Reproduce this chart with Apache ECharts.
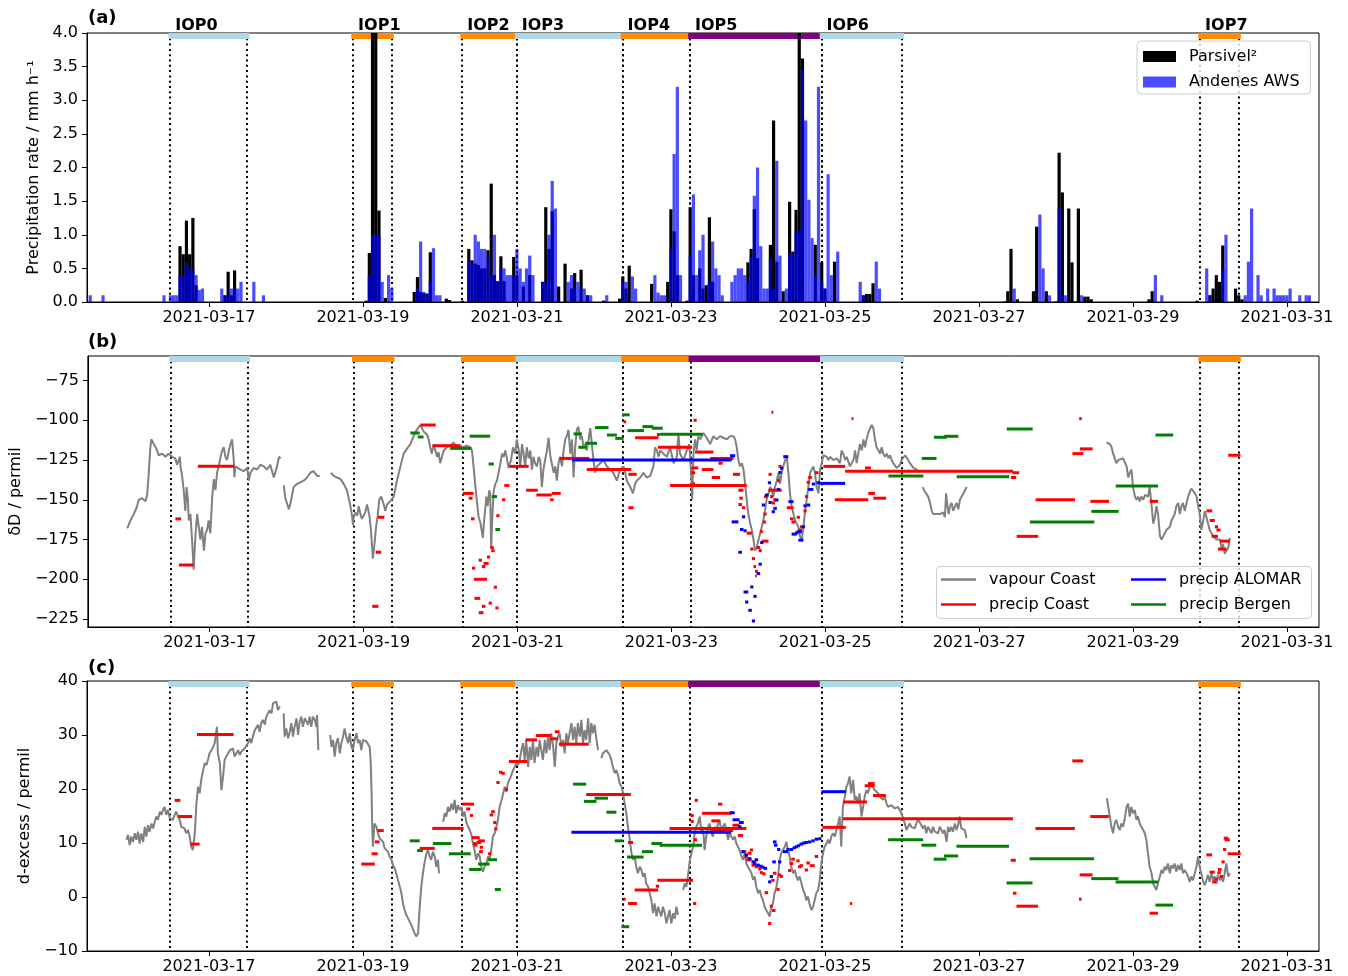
<!DOCTYPE html>
<html>
<head>
<meta charset="utf-8">
<title>Precipitation and isotopes, March 2021</title>
<script src="https://cdn.jsdelivr.net/npm/echarts@6/dist/echarts.min.js"></script>
<style>
  html, body { margin: 0; padding: 0; background: #ffffff; }
  #chart { width: 1348px; height: 976px; }
</style>
</head>
<body>
<div id="chart"></div>
<script>
// Time is expressed in hours since 2021-03-15 00:00 UTC.
const T0 = Date.UTC(2021, 2, 15);
const xMin = 10, xMax = 394;
const dateTicks = [48, 96, 144, 192, 240, 288, 336, 384];

// Intensive observation periods
const iopNames  = ['IOP0', 'IOP1', 'IOP2', 'IOP3', 'IOP4', 'IOP5', 'IOP6', 'IOP7'];
const iopStart  = [36, 93, 127, 144, 177, 198, 239, 357];
const iopEnd    = [60, 105, 144, 177, 198, 239, 264, 369];
const iopColors = ['#add8e6', '#ff8c00', '#ff8c00', '#add8e6', '#ff8c00', '#800080', '#add8e6', '#ff8c00'];

// Tick labels
const precipTicks = [0, 0.5, 1, 1.5, 2, 2.5, 3, 3.5, 4];
const ddTicks = [-225, -200, -175, -150, -125, -100, -75];
const dexTicks = [-10, 0, 10, 20, 30, 40];

// (a) hourly precipitation rate [hour, mm/h]
const parsivel = [
  [39,0.83],[40,0.71],[41,1.21],[42,0.71],[43,1.25],[44,0.25],[53,0.1],[54,0.45],[55,0.1],[56,0.47],
  [97,0.02],[98,0.73],[99,5.0],[100,5.0],[101,1.36],[103,0.06],
  [112,0.15],[113,0.37],[114,0.15],[115,0.13],[116,0.12],[117,0.74],[122,0.05],[123,0.03],[127,0.02],
  [129,0.79],[130,0.62],[131,0.57],[132,0.55],[133,0.5],[134,0.5],[135,0.77],[136,1.76],[137,0.4],[138,0.31],[139,0.68],[140,0.31],[143,0.67],[144,0.4],[146,0.23],[148,0.4],
  [152,0.3],[153,1.41],[154,0.79],[155,1.35],[157,0.23],[159,0.57],[161,0.2],[162,0.43],[164,0.48],[166,0.1],[171,0.02],
  [176,0.05],[177,0.38],[178,0.2],[179,0.54],[186,0.27],[191,0.3],[192,1.38],[193,1.05],[194,0.4],[197,0.02],[198,1.41],[199,0.4],[201,0.5],[202,0.2],[203,0.25],[204,1.26],[205,0.3],
  [216,0.59],[217,0.79],[218,1.38],[219,0.65],[223,0.85],[224,2.7],[225,0.6],[227,0.16],[229,1.49],[230,0.75],[231,1.37],[232,5.0],[233,3.62],[237,0.85],[239,0.59],[240,0.2],[243,0.6],
  [252,0.1],[253,0.12],[254,0.12],[255,0.28],
  [296,0.01],[297,0.16],[298,0.79],[300,0.04],[305,0.16],[306,1.12],[309,0.16],[312,0.01],[313,2.22],[314,1.63],[316,1.39],[317,0.59],[318,0.01],[319,1.39],[321,0.08],[322,0.08],[323,0.04],
  [341,0.04],[342,0.16],[356,0.02],[360,0.1],[361,0.2],[362,0.4],[363,0.3],[364,0.84],[368,0.2],[369,0.1],[370,0.04]
];
const andenes = [
  [11,0.1],[15,0.1],[34,0.1],[36,0.1],[37,0.1],[38,0.1],[39,0.4],[40,0.4],[41,0.59],[42,0.49],[43,0.49],[44,0.4],[45,0.18],[46,0.2],
  [52,0.2],[53,0.1],[54,0.1],[55,0.2],[56,0.2],[57,0.2],[58,0.3],[62,0.3],[65,0.1],
  [98,0.4],[99,1.0],[100,1.0],[101,1.0],[102,0.3],[104,0.4],[105,0.2],
  [113,0.2],[114,0.9],[115,0.15],[116,0.13],[117,0.3],[118,0.8],[119,0.1],[120,0.1],
  [129,0.62],[130,0.57],[131,1.0],[132,0.9],[133,0.79],[134,0.79],[135,0.67],[136,0.4],[137,1.0],[138,0.31],[139,0.5],[140,0.5],[141,0.4],[142,0.4],[143,0.4],[144,0.79],[145,0.5],[146,0.3],[147,0.5],[148,0.69],[149,0.4],
  [152,0.3],[153,0.3],[154,1.0],[155,1.8],[156,1.39],[160,0.3],[161,0.4],[162,0.2],[163,0.3],[164,0.2],[165,0.2],[166,0.1],[167,0.1],[172,0.1],
  [177,0.3],[178,0.3],[180,0.38],[181,0.2],[187,0.4],[188,0.14],[189,0.1],[190,0.1],[192,0.79],[193,2.2],[194,3.2],[195,0.4],
  [198,0.68],[199,1.6],[200,0.4],[201,0.77],[202,1.0],[204,0.3],[205,0.9],[206,0.5],[207,0.4],[208,0.1],
  [211,0.3],[212,0.4],[213,0.5],[214,0.5],[215,0.4],[216,0.3],[217,0.67],[218,1.58],[219,2.0],[220,0.83],[221,0.2],[222,0.2],[223,0.65],[224,0.2],[225,2.1],[226,0.69],[228,0.2],
  [229,0.73],[230,0.7],[231,1.06],[232,1.06],[233,3.45],[234,2.7],[235,1.52],[236,0.95],[237,0.4],[238,3.2],[239,0.3],[240,0.2],[241,1.9],[242,0.4],[244,0.75],
  [251,0.3],[252,0.1],[256,0.6],[257,0.2],[299,0.2],[307,1.3],[308,0.5],[310,0.1],[313,1.39],[314,0.1],[315,0.1],[320,0.1],[343,0.4],[345,0.1],
  [359,0.5],[360,0.1],[364,0.5],[365,1.0],[371,0.1],[372,0.6],[373,1.39],[375,0.4],[376,0.1],[378,0.2],[380,0.2],[381,0.1],[382,0.1],[383,0.1],[384,0.1],[385,0.2],[388,0.1],[390,0.1],[391,0.1]
];

// (b) vapour dD at the coast [hour, permil]; null marks a data gap
const vapourDD = [
  [22.3,-168],[23.3,-163],[24.3,-159],[25.2,-155],[25.9,-150],[26.9,-149],[28.0,-151],[28.5,-147],[29.0,-133],[29.5,-117],[29.8,-112],[30.6,-115],[31.4,-118],[32.1,-122],[33.2,-121],[34.2,-123],[35.2,-121],[36.3,-123],[37.3,-124],[37.8,-128],[38.7,-123],[38.9,-129],[39.4,-135],[39.9,-144],[40.4,-157],[40.8,-142],[41.2,-150],[41.5,-163],[42.0,-159],[42.5,-175],[43.0,-194],[43.6,-171],[44.1,-159],[44.6,-167],[45.1,-175],[45.6,-167],[46.2,-182],[46.7,-171],[47.2,-169],[47.7,-163],[48.2,-171],[48.8,-148],[49.3,-137],[49.8,-144],[50.3,-133],[50.8,-129],[51.4,-123],[51.9,-119],[52.4,-117],[52.9,-123],[53.4,-125],[54.0,-119],[54.5,-115],[55.0,-112],[55.5,-125],[55.7,-136],[56.0,-129],[56.5,-130],[57.6,-131],[58.6,-132],[59.7,-130],[60.2,-138],[60.7,-133],[61.7,-130],[62.8,-131],[63.8,-128],[64.9,-129],[65.9,-131],[66.9,-128],[68.0,-136],[69.0,-129],[69.6,-123],[70.1,-124],[70.6,null],
  [71.1,-141],[71.6,-149],[72.7,-156],[73.2,-152],[74.2,-142],[75.3,-140],[76.3,-139],[77.3,-138],[78.4,-136],[79.4,-133],[80.4,-132],[81.5,-135],[82.3,-135],[83.0,null],
  [85.8,-133],[86.7,-135],[87.7,-136],[88.8,-137],[89.8,-140],[90.8,-144],[91.9,-154],[92.4,-160],[92.7,-166],[92.9,-161],[93.4,-158],[94.0,-160],[94.5,-154],[95.0,-159],[95.5,-162],[96.0,-160],[96.5,-158],[97.1,-153],[97.9,-161],[98.3,-169],[98.6,-178],[98.9,-187],[99.3,-180],[99.9,-167],[100.4,-160],[100.9,-150],[101.5,-148],[102.3,-153],[102.8,-157],[103.3,-153],[104.3,-151],[104.9,-150],[105.4,-148],[106.4,-138],[107.5,-129],[108.5,-121],[109.5,-118],[110.6,-115],[111.6,-110],[112.6,-106],[113.7,-103],[114.2,-104],[114.7,-107],[115.8,-109],[116.3,-112],[116.8,-117],[117.3,-121],[117.8,-115],[118.4,-119],[118.9,-123],[119.4,-120],[119.9,-127],
  [121.0,-119],[122.0,-117],[123.0,-116],[124.1,-114],[125.1,-117],[126.2,-116],[127.0,-117],[128.2,-116],[129.3,-117],[129.8,-119],[130.3,-129],[130.8,-140],[131.4,-152],[131.9,-161],[132.4,-164],[132.9,-170],[133.2,-174],[133.6,-163],[134.3,-148],[134.7,-154],[135.2,-144],[135.5,-146],[135.8,-180],[136.2,-159],[136.6,-144],[137.1,-140],[137.6,-138],[138.1,-133],[138.6,-128],[139.2,-121],[139.7,-123],[140.2,-119],[140.7,-124],[141.2,-130],[142.0,-125],[142.6,-117],[143.3,-121],[143.8,-112],[144.4,-119],[144.9,-129],[145.4,-115],[145.9,-121],[146.4,-129],[146.9,-117],[147.5,-124],[148.0,-119],[148.5,-131],[149.0,-123],[149.5,-127],[150.1,-129],[150.6,-123],[151.1,-125],[151.6,-142],[152.1,-131],[152.7,-124],[153.2,-119],[153.7,-111],[154.2,-122],[154.7,-123],[155.3,-133],[155.8,-129],[156.3,-138],[156.8,-127],[157.3,-123],[157.9,-129],[158.4,-119],[158.9,-112],[159.4,-110],[159.9,-106],[160.5,-121],[161.0,-112],[161.5,-136],[162.0,-117],[162.5,-106],[163.0,-104],[163.6,-112],[164.1,-110],[164.6,-117],[165.1,-115],[165.6,-119],[166.2,-112],[166.7,-105],[167.2,-106],[167.7,-125],[168.2,-133],[168.8,-129],[169.8,-127],[170.8,-125],[171.9,-129],[172.9,-131],[173.9,-133],[175.0,-138],[176.0,-131],[177.1,-129],[177.6,-133],[178.1,-138],[179.2,-142],[180.0,-146],[180.7,-140],[181.2,-138],[182.3,-136],[183.3,-133],[184.3,-136],[185.4,-135],[186.4,-129],[186.9,-117],[187.5,-119],[188.0,-123],[188.5,-119],[189.5,-121],[190.6,-123],[191.6,-117],[192.7,-127],[193.7,-123],[194.2,-108],[194.7,-121],[195.8,-125],[196.8,-119],[197.6,-115],[198.1,-131],[198.5,-150],[198.9,-121],[199.4,-112],[199.9,-119],[200.4,-110],[201.0,-112],[202.0,-108],[203.0,-111],[204.1,-115],[205.1,-110],[206.2,-112],[207.2,-110],[208.2,-111],[209.3,-112],[210.3,-110],[211.4,-110],[211.9,-112],[212.4,-117],[212.9,-125],[213.4,-129],[214.0,-127],[214.5,-131],[215.0,-140],[215.5,-150],[216.0,-159],[216.6,-165],[217.1,-169],[217.6,-175],[218.1,-182],[218.6,-180],[219.2,-175],[219.7,-171],[220.2,-167],[220.7,-163],[221.2,-157],[221.7,-150],[222.3,-146],[222.8,-142],[223.3,-144],[223.8,-148],[224.3,-142],[224.9,-138],[225.4,-133],[225.9,-140],[226.4,-133],[226.9,-129],[227.5,-125],[228.0,-123],[228.5,-133],[229.0,-146],[229.5,-154],[230.1,-159],[230.6,-163],[231.1,-165],[231.6,-167],[232.1,-173],[232.7,-175],[233.2,-167],[233.7,-157],[234.2,-150],[234.7,-142],[235.3,-133],[235.8,-131],[236.3,-129],[236.8,-133],[237.3,-142],[237.9,-146],[238.4,-131],[238.9,-127],[239.4,-122],[239.9,-121],[240.5,-123],[241.0,-125],[241.5,-123],[242.5,-125],[243.6,-124],[244.6,-127],[245.1,-119],[245.6,-121],[246.2,-125],[246.7,-123],[247.7,-129],
  [248.8,-125],[249.3,-119],[249.8,-127],[250.3,-121],[250.8,-115],[251.4,-119],[251.9,-112],[252.4,-117],[252.9,-112],[253.4,-108],[254.0,-105],[254.5,-103],[255.0,-105],[255.5,-112],[256.0,-117],[256.6,-119],[257.1,-121],[257.6,-117],[258.1,-121],[258.6,-123],[259.2,-121],[259.7,-124],[260.2,-122],[260.7,-125],[261.2,-127],[262.3,-130],[262.8,-129],[263.3,-128],[263.8,-125],[264.4,-124],[264.9,-122],[265.4,-123],[265.9,-125],[266.4,-127],[267.5,-130],[268.5,-131],[269.0,-133],[269.7,null],
  [270.4,-142],[270.8,-144],[271.4,-143],[272.1,-148],[272.7,-152],[273.2,-157],[273.7,-159],[274.2,-158],[274.7,-159],[275.3,-158],[275.8,-159],[276.3,-160],[276.8,-158],[277.3,-161],[277.7,-146],[278.1,-154],[278.5,-159],[278.9,-154],[279.4,-152],[279.9,-157],[280.5,-154],[281.0,-152],[281.5,-156],[282.0,-150],[282.5,-148],[283.1,-146],[283.6,-144],[284.1,-142],[300.0,null],
  [327.7,-114],[328.8,-115],[329.3,-117],[329.8,-121],[330.3,-124],[330.8,-127],[331.4,-125],[331.9,-124],[332.9,-124],[333.4,-125],[334.0,-129],[334.5,-136],[335.0,-133],[335.5,-131],[336.0,-142],[336.6,-148],[337.1,-150],[337.6,-148],[338.1,-151],[338.6,-148],[339.2,-150],[339.7,-147],[340.2,-146],[340.7,-148],[341.2,-142],[341.8,-154],[342.3,-165],[342.8,-161],[343.3,-154],[343.8,-159],[344.4,-173],[344.9,-175],[345.4,-173],[345.9,-171],[346.4,-169],[346.9,-168],[347.5,-167],[348.0,-163],[348.5,-161],[349.0,-159],[349.5,-154],[350.1,-152],[350.6,-159],[351.1,-154],[351.6,-152],[352.1,-157],[352.7,-152],[353.2,-148],[353.7,-145],[354.2,-143],[354.7,-144],[355.3,-146],[355.8,-148],[356.3,-154],[356.8,-159],[357.3,-169],[357.9,-163],[358.4,-157],[358.9,-161],[359.4,-165],[359.9,-169],[360.5,-171],[361.0,-173],[361.5,-174],[362.0,-175],[363.1,-175],[363.6,-180],[364.1,-178],[364.6,-184],[365.1,-185],[365.7,-180],[366.2,-174]
];

// (b) precipitation dD samples [start hour, end hour, permil]
const precipCoastDD = [
  [37.3,39.1,-162],[38.4,43.0,-191],[44.3,55.7,-129],
  [98.7,100.6,-217],[99.8,101.5,-183],[100.5,102.5,-161],
  [113.7,118.5,-103],[117.6,126.2,-116],
  [127.0,130.3,-146],[128.8,130.0,-149],[129.5,130.6,-162],[129.8,130.8,-193],[130.4,134.5,-200],[130.6,132.4,-212],[131.9,132.9,-188],[132.9,134.0,-192],[133.4,135.0,-190],[131.9,133.4,-221],[132.9,134.0,-217],[135.0,136.0,-215],[134.5,135.5,-186],[135.5,136.6,-180],[135.8,136.9,-182],[136.6,137.6,-205],[137.1,138.1,-218],[137.4,138.4,-160],[139.2,140.2,-150],[139.9,141.5,-141],
  [141.5,147.5,-129],[146.7,150.3,-144],[149.9,154.7,-147],[154.2,155.3,-150],[154.7,157.5,-146],[157.1,166.4,-124],[165.6,179.5,-131],[178.6,181.2,-134],[178.6,180.2,-155],[177.1,177.9,-101],[180.7,188.0,-111],[187.5,188.5,-109],[187.8,198.4,-117],[191.6,215.5,-141],
  [198.4,200.4,-130],[198.9,199.9,-100],[199.4,205.1,-120],[198.2,199.4,-133],[198.4,199.4,-140],[201.5,205.1,-131],[204.6,207.2,-136],[204.1,211.4,-124],[206.7,208.0,-127],[211.2,213.4,-134],[212.9,214.5,-144],[213.2,214.3,-149],[212.9,214.0,-153],[214.0,215.0,-155],[215.5,217.1,-171],[216.6,217.6,-181],[217.1,218.1,-187],[217.6,218.4,-192],[218.1,219.0,-195],[218.1,218.6,-198],[218.6,219.7,-180],[219.2,220.2,-182],[219.7,220.5,-170],[220.5,221.5,-164],[220.7,221.7,-159],[220.9,222.0,-148],[220.2,222.3,-176],[222.3,223.3,-134],[222.3,226.4,-144],[222.8,223.8,-148],[223.3,224.3,-152],[223.8,224.9,-150],[224.9,225.9,-138],[225.4,226.4,-129],[223.2,223.8,-95],
  [228.0,230.1,-155],[229.0,230.1,-162],[229.5,230.6,-164],[231.1,232.1,-161],[231.6,232.7,-169],[232.1,233.2,-167],[233.2,234.2,-157],[233.7,234.7,-148],[234.2,235.3,-139],[234.7,235.8,-136],[236.8,237.9,-133],
  [239.4,246.2,-129],[248.2,248.8,-99],[243.0,253.4,-150],[252.4,254.2,-130],[253.4,255.5,-146],[255.0,259.0,-149],[246.2,298.6,-132],
  [298.4,300.5,-133],[297.9,299.5,-136],[299.7,306.4,-173],[305.6,317.9,-150],[317.1,320.5,-121],[319.4,323.4,-118],[319.2,320.0,-99],[322.7,328.5,-151],[341.2,343.8,-151],
  [358.9,360.7,-157],[359.9,361.5,-163],[361.5,362.5,-167],[362.0,363.3,-169],[360.5,362.5,-173],[363.1,366.2,-176],[362.5,365.1,-181],[365.7,369.5,-122]
];
const precipAlomarDD = [
  [161.0,210.8,-125],[210.3,211.9,-122.3],[210.8,212.9,-163.9],[212.9,214.0,-183],[213.4,214.5,-168.7],[214.0,215.0,-160.7],[214.5,215.5,-169.5],[214.5,216.0,-208],[215.0,216.0,-214.3],[216.0,217.1,-219.5],[216.6,217.6,-204.8],[217.1,218.1,-226.2],[217.6,218.6,-210.7],[218.6,219.7,-196.4],[219.2,220.2,-190.5],[219.7,220.7,-176.9],[220.2,221.2,-153.3],[221.2,222.3,-147],[222.1,223.1,-139.3],[222.3,223.3,-151.7],[223.3,224.3,-157.5],[223.8,224.9,-155.4],[224.3,225.4,-150.2],[224.9,225.9,-143.5],[225.4,226.4,-132.8],[225.9,226.9,-130.2],[226.9,228.5,-122.9],[228.5,230.1,-151.2],[229.5,231.1,-171.6],[230.6,231.6,-170.8],[231.1,232.7,-170.1],[231.6,233.2,-175.4],[232.7,233.7,-167],[233.2,234.2,-153.8],[234.2,235.3,-153.3],[234.7,236.3,-143.5],[235.8,236.8,-140.1],[237.3,238.4,-139.3],[238.4,246.2,-139.7]
];
const precipBergenDD = [
  [110.6,113.5,-108],[112.9,114.7,-110.5],[123.0,129.6,-117.7],[129.1,135.5,-110],[135.0,136.6,-127.5],[136.0,137.6,-148],[137.1,138.6,-168.7],
  [161.5,164.1,-108.6],[163.0,165.6,-117],[165.1,168.8,-114.5],[168.2,172.4,-104.6],[171.9,175.0,-109.3],[174.5,177.1,-111.4],[176.6,179.0,-96.6],[178.3,183.5,-106.5],[183.0,186.4,-104],[185.9,189.3,-105],[188.5,201.7,-108.8],
  [259.7,270.6,-135],[270.1,274.7,-124],[273.9,277.9,-110.7],[277.1,281.5,-110.1],[281.0,297.4,-135.5],[296.6,304.7,-105.5],[303.8,323.9,-164],[323.0,331.5,-157.3],[330.6,343.8,-141.4],[343.0,348.5,-109.3]
];

// (c) vapour d-excess at the coast [hour, permil]; null marks a data gap
const vapourDex = [
  [22.3,10.6],[22.8,11.5],[23.3,9.6],[23.8,11.2],[24.3,10.2],[24.9,11.8],[25.4,10.6],[25.9,12.1],[26.4,9.9],[26.9,11.8],[27.5,10.2],[28.0,13.0],[28.5,11.2],[29.0,13.3],[29.5,12.1],[30.1,13.6],[30.6,12.7],[31.1,13.9],[31.6,14.9],[32.1,14.3],[32.7,15.8],[33.2,15.2],[33.7,16.1],[34.2,16.7],[34.7,15.2],[35.2,16.1],[35.8,14.6],[36.3,14.9],[36.8,14.3],[37.3,15.2],[37.8,15.8],[38.4,14.9],[38.9,14.3],[39.4,13.0],[39.9,13.3],[40.4,12.7],[40.9,11.8],[41.5,12.4],[42.0,11.2],[42.5,9.3],[43.0,8.7],[43.6,11.8],[44.1,17.3],[44.6,20.4],[44.9,20.7],[45.1,19.2],[45.6,21.7],[46.2,23.5],[46.7,24.8],[47.2,24.4],[47.7,25.4],[48.2,26.6],[48.8,27.2],[49.3,27.8],[49.8,28.5],[50.3,28.8],[50.5,31.5],[50.8,26.6],[51.4,24.8],[51.9,19.8],[52.4,22.3],[52.9,25.4],[53.4,26.0],[54.0,26.6],[54.5,27.2],[55.0,26.9],[55.5,27.5],[56.0,26.0],[56.5,26.3],[57.1,27.2],[57.6,26.3],[58.1,26.9],[58.6,26.6],[59.1,27.5],[59.7,27.8],[60.2,28.5],[60.7,29.4],[61.2,28.5],[61.7,29.7],[62.3,30.9],[62.8,31.2],[63.3,31.9],[63.8,30.6],[64.3,32.2],[64.9,32.8],[65.4,31.9],[65.9,33.4],[66.4,33.7],[66.9,34.6],[67.5,34.0],[68.0,35.9],[68.5,35.6],[69.0,36.2],[69.5,34.6],[70.1,35.3],[70.7,null],
  [71.3,34.0],[71.6,29.7],[72.1,31.2],[72.7,29.4],[73.2,30.6],[73.7,32.2],[74.2,29.7],[74.7,31.5],[75.3,33.1],[75.8,30.0],[76.3,32.5],[76.8,33.4],[77.3,31.5],[77.9,33.1],[78.4,33.4],[78.9,31.9],[79.4,33.4],[79.9,31.5],[80.4,33.4],[81.0,32.8],[81.5,31.5],[81.7,33.7],[82.1,27.2],[83.0,null],
  [85.8,30.0],[86.2,27.8],[86.7,29.1],[87.2,26.0],[87.7,28.5],[88.2,29.4],[88.8,26.6],[89.3,28.5],[89.8,29.7],[90.3,31.2],[90.8,29.7],[91.4,28.5],[91.9,30.3],[92.4,27.8],[92.9,27.2],[93.4,29.1],[94.0,30.3],[94.5,28.5],[95.0,29.1],[95.5,27.2],[96.0,29.1],[96.5,29.1],[97.1,28.8],[97.6,28.5],[98.1,27.8],[98.4,25.4],[98.7,19.2],[98.9,13.0],[99.1,9.3],[99.6,13.6],[100.2,13.0],[100.7,11.8],[101.2,10.9],[101.7,10.6],[102.3,10.2],[102.8,9.0],[103.3,8.7],[103.8,8.4],[104.3,7.5],[104.9,6.9],[105.4,5.9],[105.9,5.3],[106.4,4.4],[106.9,3.2],[107.5,1.9],[108.0,0.7],[108.5,-1.2],[109.0,-2.4],[109.5,-3.3],[110.1,-4.0],[110.6,-4.6],[111.1,-5.2],[111.6,-5.5],[112.1,-6.7],[112.6,-7.3],[113.2,-6.7],[113.7,-1.8],[114.2,1.9],[114.7,4.4],[115.2,6.3],[115.8,8.1],[116.3,8.7],[116.8,7.5],[117.3,6.9],[117.8,8.4],[118.4,7.5],[118.9,5.6],[119.4,6.9],[119.7,4.4],[120.3,null],
  [121.0,13.9],[121.5,15.5],[122.0,14.9],[122.5,16.7],[123.0,15.8],[123.6,17.3],[124.1,16.1],[124.6,18.0],[125.1,15.5],[125.6,17.0],[126.2,16.1],[126.7,16.7],[127.2,14.9],[127.7,15.8],[128.2,13.9],[128.8,13.0],[129.3,12.4],[129.8,11.5],[130.3,9.9],[130.8,8.7],[131.3,6.9],[131.9,8.1],[132.4,7.5],[132.9,5.6],[133.4,4.7],[133.9,5.6],[134.5,6.2],[135.0,7.5],[135.5,6.9],[136.0,8.7],[136.5,11.2],[137.1,11.8],[137.6,13.0],[138.1,14.3],[138.6,16.7],[139.2,17.9],[139.7,19.1],[140.2,20.4],[140.7,19.5],[141.2,21.1],[141.7,21.4],[142.3,22.6],[142.8,23.5],[143.3,24.1],[143.8,24.8],[144.3,24.4],[144.9,25.4],[145.4,27.2],[145.9,28.5],[146.4,25.4],[146.9,29.1],[147.5,24.1],[148.0,27.8],[148.5,25.4],[149.0,29.1],[149.5,24.8],[150.1,27.8],[150.6,26.0],[151.1,29.1],[151.6,27.2],[152.1,25.4],[152.7,29.1],[153.2,26.6],[153.7,29.7],[154.2,27.2],[154.7,30.3],[155.3,27.8],[155.8,24.1],[156.3,28.5],[156.8,29.7],[157.3,30.3],[157.9,27.8],[158.4,29.1],[158.9,26.6],[159.4,30.3],[159.9,28.5],[160.5,30.6],[161.0,32.2],[161.5,29.1],[162.0,31.5],[162.5,28.5],[163.0,32.2],[163.6,29.7],[164.1,32.8],[164.6,28.5],[165.1,30.9],[165.6,29.1],[166.2,33.1],[166.7,28.5],[167.2,32.2],[167.7,30.3],[168.2,31.9],[168.8,29.1],[169.3,27.2],[169.8,null],
  [170.3,25.7],[170.8,26.6],[171.4,26.9],[171.9,27.2],[172.4,26.9],[172.9,26.3],[173.4,25.4],[173.9,24.1],[174.5,22.9],[175.0,23.5],[175.5,22.6],[176.0,21.1],[176.6,20.4],[177.1,19.2],[177.6,17.3],[178.1,15.5],[178.6,13.0],[179.2,10.6],[179.7,8.1],[180.2,6.9],[180.7,7.5],[181.2,5.6],[181.7,4.4],[182.3,5.6],[182.8,5.0],[183.3,3.8],[183.8,4.4],[184.3,2.5],[184.9,1.9],[185.4,0.7],[185.9,-0.6],[186.4,-3.0],[186.9,-1.2],[187.5,-3.6],[188.0,-1.8],[188.5,-2.1],[189.0,-3.6],[189.5,-1.8],[190.1,-3.0],[190.6,-4.9],[191.1,-3.6],[191.6,-2.4],[192.1,-4.9],[192.7,-3.0],[193.2,-4.0],[193.7,-1.8],[194.2,-3.3],[195.0,null],
  [195.8,1.3],[196.3,2.5],[196.8,1.9],[197.3,3.8],[197.9,6.9],[198.4,8.1],[198.9,9.3],[199.4,11.8],[199.9,13.0],[200.4,13.6],[201.0,14.9],[201.5,11.8],[202.0,13.0],[202.5,8.7],[203.0,11.2],[203.6,13.0],[204.1,13.6],[204.6,11.8],[205.1,11.2],[205.6,13.0],[206.2,12.4],[206.7,13.6],[207.2,14.3],[207.7,11.8],[208.2,13.0],[208.8,13.6],[209.3,12.4],[209.8,10.6],[210.3,11.8],[210.8,11.2],[211.4,10.6],[211.9,11.2],[212.4,9.9],[212.9,9.3],[213.4,8.7],[214.0,7.5],[214.5,6.9],[215.0,8.1],[215.5,6.2],[216.0,5.6],[216.6,5.0],[217.1,4.4],[217.6,3.2],[218.1,3.8],[218.6,1.9],[219.2,0.7],[219.7,1.3],[220.2,0.1],[220.7,-0.6],[221.2,-1.8],[221.7,-2.4],[222.3,-3.0],[222.8,-3.6],[223.3,-1.8],[223.8,-1.2],[224.3,0.7],[224.9,1.9],[225.4,3.8],[225.9,6.9],[226.4,8.1],[226.9,8.7],[227.5,9.3],[228.0,10.2],[228.5,8.7],[229.0,7.5],[229.5,5.6],[230.1,4.4],[230.6,5.0],[231.1,3.8],[231.6,3.1],[232.1,3.8],[232.7,2.5],[233.2,1.3],[233.7,0.7],[234.2,-0.6],[234.7,0.1],[235.3,-1.5],[235.8,-2.4],[236.3,-1.8],[236.8,-0.6],[237.3,0.7],[237.9,1.3],[238.4,3.2],[238.9,6.3],[239.4,8.1],[239.9,9.3],[240.5,9.9],[241.0,10.6],[241.5,9.9],[242.0,11.2],[242.5,11.8],[243.1,11.2],[243.6,12.4],[244.1,13.6],[244.6,14.9],[245.1,9.3],[245.6,16.7],[246.2,18.6],[246.7,20.4],[247.2,21.1],[247.7,22.3],[248.2,19.2],[248.8,21.7],[249.3,18.0],[249.8,18.6],[250.3,17.3],[250.8,19.2],[251.4,14.9],[251.9,16.7],[252.4,18.6],[252.9,19.8],[253.4,19.2],[254.0,20.4],[254.5,21.1],[255.0,20.4],[255.5,19.8],[256.0,19.5],[256.6,19.2],[257.1,18.6],[257.6,18.9],[258.1,18.0],[258.6,18.6],[259.2,17.3],[259.7,16.7],[260.2,16.4],[260.7,17.0],[261.2,16.7],[261.8,16.4],[262.3,16.1],[262.8,16.7],[263.3,16.4],[263.8,15.5],[264.4,14.6],[264.9,13.6],[265.4,12.4],[265.9,13.0],[266.4,13.6],[266.9,13.0],[267.5,13.3],[268.0,12.7],[268.5,13.6],[269.0,14.3],[269.5,13.9],[270.1,13.6],[270.6,12.7],[271.1,13.3],[271.6,11.8],[272.1,13.0],[272.7,12.4],[273.2,11.8],[273.7,13.0],[274.2,12.1],[274.7,12.4],[275.3,11.8],[275.8,13.0],[276.3,12.7],[276.8,11.8],[277.3,12.4],[277.9,10.2],[278.4,13.0],[278.9,12.1],[279.4,13.0],[279.9,12.1],[280.5,13.6],[281.0,12.4],[281.5,13.3],[282.0,14.9],[282.5,12.7],[283.1,13.0],[283.6,12.4],[284.1,10.9],[300.0,null],
  [327.9,18.3],[328.3,16.7],[328.8,14.9],[329.3,13.0],[329.8,11.8],[330.3,13.6],[330.8,14.3],[331.4,13.0],[331.9,12.4],[332.4,13.6],[332.9,13.0],[333.4,14.3],[334.0,16.7],[334.5,17.3],[335.0,14.9],[335.5,16.7],[336.0,15.5],[336.6,16.1],[337.1,14.3],[337.6,14.9],[338.1,13.6],[338.6,13.0],[339.2,12.4],[339.7,11.8],[340.2,10.6],[340.7,8.1],[341.2,5.6],[341.8,4.4],[342.3,2.5],[342.8,1.9],[343.3,1.3],[343.8,2.5],[344.4,3.8],[344.9,5.0],[345.4,4.4],[345.9,5.6],[346.4,5.0],[346.9,6.2],[347.5,4.4],[348.0,5.9],[348.5,5.3],[349.0,6.2],[349.5,4.7],[350.1,5.9],[350.6,5.0],[351.1,6.2],[351.6,4.4],[352.1,5.0],[352.7,4.4],[353.2,3.8],[353.7,2.8],[354.2,3.8],[354.7,3.1],[355.3,4.4],[355.8,5.6],[356.3,7.5],[356.8,5.6],[357.3,4.4],[357.9,2.8],[358.4,2.2],[358.9,3.1],[359.4,4.1],[359.9,2.8],[360.5,4.4],[361.0,3.1],[361.5,3.8],[362.0,2.5],[362.5,4.1],[363.1,3.1],[363.6,3.8],[364.1,2.8],[364.6,4.4],[365.1,6.2],[365.7,3.8],[366.2,4.4]
];

// (c) precipitation d-excess samples [start hour, end hour, permil]
const precipCoastDex = [
  [37.3,39.1,17.9],[38.4,42.8,14.9],[42.2,45.1,9.8],[44.3,55.7,30.1],
  [95.5,99.7,6.1],[98.7,100.6,8.0],[99.7,101.2,10.2],[100.5,102.5,12.3],
  [113.7,118.4,9.0],[117.6,127.4,12.7],
  [127.0,130.6,17.2],[128.2,129.5,16.3],[129.3,130.3,15.1],[130.0,132.4,11.0],[130.3,131.4,9.9],[131.4,132.9,10.1],[131.9,134.0,10.4],[130.6,131.7,9.6],[132.2,133.4,8.4],[132.4,133.4,9.2],[135.0,136.0,8.0],[135.5,136.6,15.2],[136.0,137.1,15.8],[136.6,137.6,13.8],[136.9,137.9,12.6],[137.6,138.6,21.2],[138.4,139.5,23.1],[139.2,140.2,22.9],[140.2,141.2,19.9],
  [141.5,147.2,25.1],[146.7,150.3,29.1],[149.9,154.7,29.9],[154.2,156.8,29.3],[155.8,157.3,30.6],[157.1,166.4,28.3],[165.6,179.5,19.0],[178.6,180.2,10.1],[177.1,177.9,-0.4],[178.6,181.4,-1.2],[180.7,188.0,1.3],[187.3,188.3,2.0],[187.8,198.9,3.1],[191.6,215.5,12.7],
  [198.9,199.9,-1.2],[199.4,200.4,17.9],[198.1,199.1,15.1],[198.1,199.1,14.0],[199.1,200.1,10.6],[201.7,211.0,15.5],[204.1,211.4,12.3],[204.6,207.2,14.1],[206.7,208.0,17.2],[211.2,213.4,13.3],[212.9,214.5,11.4],[214.0,215.5,8.4],[215.0,216.0,7.5],[215.5,217.1,6.9],[216.0,217.1,8.1],[216.6,217.6,8.7],[217.1,218.1,5.9],[217.6,218.6,6.5],[218.1,219.2,5.6],[219.2,220.2,5.2],[219.7,220.7,4.5],[220.5,221.5,4.3],[221.2,222.3,0.8],[222.3,223.3,-4.9],[222.8,223.8,-1.7],[223.5,224.6,-2.5],[223.3,224.3,3.1],[223.8,224.9,4.4],[224.9,225.9,1.4],[225.4,226.4,4.1],[225.9,226.9,3.8],[228.5,229.5,4.9],[229.0,230.1,6.2],[229.5,230.6,7.0],[231.1,232.1,6.7],[231.6,232.7,5.6],[232.1,233.2,5.8],[233.7,234.7,5.0],[234.2,235.3,6.3],[235.3,236.8,5.8],[236.8,237.9,7.5],
  [239.2,246.5,12.9],[245.6,253.1,17.6],[245.6,298.6,14.5],[247.8,248.5,-1.2],[252.4,255.5,20.6],[253.4,255.5,21.0],[255.0,259.0,18.8],
  [297.9,299.5,6.8],[298.6,299.7,0.7],[299.7,306.4,-1.7],[305.6,317.9,12.7],[317.1,320.5,25.2],[319.4,323.4,4.1],[319.2,320.0,-0.4],[322.7,328.5,14.9],[341.2,343.8,-3.0],
  [358.9,360.7,7.8],[359.9,361.5,4.6],[360.7,362.0,2.8],[361.5,362.5,3.3],[362.3,363.4,4.5],[362.5,363.6,5.1],[363.1,364.1,3.8],[363.6,364.6,6.5],[364.1,365.1,8.8],[364.6,366.2,10.6],[364.3,365.7,10.9],[365.5,369.6,8.0]
];
const precipAlomarDex = [
  [161.0,210.8,12.0],[210.3,211.9,15.6],[211.2,213.4,14.3],[213.2,214.7,13.8],[212.9,214.0,13.0],[214.0,215.0,8.4],[215.0,216.0,7.8],[216.0,217.1,7.1],[217.1,218.1,6.5],[217.6,218.6,6.1],[218.1,219.2,6.9],[218.6,219.7,5.9],[219.5,220.5,5.7],[220.2,221.2,5.5],[220.9,222.0,5.3],[222.3,223.3,2.8],[222.8,223.8,3.8],[223.6,224.7,6.5],[223.8,224.9,10.2],[224.1,225.2,9.6],[225.1,226.1,8.8],[225.4,226.4,6.5],[226.9,228.5,8.4],[228.0,229.0,8.8],[229.0,230.1,8.8],[229.9,230.9,9.1],[230.6,231.6,9.3],[231.3,232.3,9.5],[232.1,233.2,9.8],[232.9,234.0,10.0],[233.7,234.7,10.1],[234.7,235.8,10.2],[235.8,236.8,10.4],[236.8,237.9,10.7],[237.9,238.9,10.8],[238.9,246.5,19.5]
];
const precipBergenDex = [
  [110.6,113.7,10.4],[112.9,114.7,8.6],[117.8,123.6,9.9],[122.8,129.6,8.0],[129.1,132.9,5.1],[131.9,135.5,6.1],[135.0,137.8,6.9],[137.1,139.0,1.4],
  [161.5,165.6,20.9],[164.9,168.8,17.7],[168.2,172.4,18.3],[171.9,175.0,15.7],[174.5,177.1,10.4],[176.6,179.0,-5.5],[178.3,183.5,7.4],[183.0,186.4,8.4],[185.9,189.3,9.9],[188.5,201.7,9.6],
  [259.7,270.6,10.6],[270.1,274.7,9.6],[273.9,277.9,7.0],[277.1,281.5,7.6],[281.0,297.4,9.4],[296.6,304.7,2.6],[303.8,323.9,7.1],[323.0,331.5,3.4],[330.6,343.8,2.8],[343.0,348.5,-1.5]
];

// ---------------------------------------------------------------------------
const FONT = 'DejaVu Sans';
const chart = echarts.init(document.getElementById('chart'), null, { renderer: 'canvas' });

function dateLabel(h) {
  return new Date(T0 + h * 3600e3).toISOString().slice(0, 10);
}
function minusLabel(v) {
  return String(v).replace('-', '\u2212');
}

// hourly bar, clipped to the plotting area
function barItem(params, api) {
  const h = api.value(0), v = api.value(1);
  const a = api.coord([h - 0.5, 0]);
  const b = api.coord([h + 0.5, v]);
  const cs = params.coordSys;
  const rect = echarts.graphic.clipRectByRect(
    { x: a[0], y: b[1], width: b[0] - a[0], height: a[1] - b[1] },
    { x: cs.x, y: cs.y, width: cs.width, height: cs.height });
  return rect && { type: 'rect', shape: rect, style: { fill: api.visual('color') } };
}
// horizontal line covering a sampling interval
function segmentItem(params, api) {
  const v = api.value(2);
  const a = api.coord([api.value(0), v]);
  const b = api.coord([api.value(1), v]);
  return { type: 'line', shape: { x1: a[0], y1: a[1], x2: b[0], y2: b[1] },
           style: { stroke: api.visual('color'), lineWidth: 3 } };
}
// coloured strip along the top of a panel marking an IOP
function bandItem(yRef) {
  return function (params, api) {
    const cs = params.coordSys;
    const x0 = api.coord([api.value(0), yRef])[0] - 2;
    const x1 = api.coord([api.value(1), yRef])[0] + 2;
    return { type: 'rect', shape: { x: x0, y: cs.y, width: x1 - x0, height: 6 },
             style: { fill: iopColors[params.dataIndex] } };
  };
}
// dotted vertical line at an IOP boundary
function boundaryItem(yRef) {
  return function (params, api) {
    const cs = params.coordSys;
    const x = Math.round(api.coord([api.value(0), yRef])[0]);
    return { type: 'line', shape: { x1: x, y1: cs.y, x2: x, y2: cs.y + cs.height },
             style: { stroke: '#000', lineWidth: 2, lineDash: [2, 3.3] } };
  };
}
function iopLabelItem(params, api) {
  const cs = params.coordSys;
  const x = api.coord([api.value(0) + 1.5, 0])[0];
  return { type: 'text', x: x, y: cs.y - 7,
           style: { text: iopNames[params.dataIndex], fontFamily: FONT, fontSize: 16,
                    fontWeight: 'bold', fill: '#000', align: 'left', verticalAlign: 'middle' } };
}

const iopSpans = iopStart.map((s, i) => [s, iopEnd[i]]);
const iopBounds = iopStart.concat(iopEnd).map(t => [t]);

function xAxisFor(i) {
  return {
    type: 'value', gridIndex: i, min: xMin, max: xMax,
    axisLine: { show: true, onZero: false, lineStyle: { color: '#000', width: 1 } },
    axisTick: { show: true, length: 5, customValues: dateTicks, lineStyle: { color: '#000' } },
    axisLabel: { customValues: dateTicks, formatter: dateLabel, fontSize: 16, fontFamily: FONT, color: '#000', margin: 8 },
    splitLine: { show: false }
  };
}
function yAxisBase(i, name) {
  return {
    type: 'value', gridIndex: i, name: name, nameLocation: 'middle', nameGap: 44,
    nameTextStyle: { fontSize: 16, fontFamily: FONT, color: '#000' },
    axisLine: { show: true, onZero: false, lineStyle: { color: '#000', width: 1 } },
    axisTick: { show: true, length: 5, lineStyle: { color: '#000' } },
    axisLabel: { fontSize: 16, fontFamily: FONT, color: '#000', margin: 9 },
    splitLine: { show: false }
  };
}

const yA = yAxisBase(0, 'Precipitation rate / mm h\u207b\u00b9');
Object.assign(yA, { min: 0, max: 4, interval: 0.5 });
yA.axisLabel.formatter = v => v.toFixed(1);

const yB = yAxisBase(1, '\u03b4D / permil');
Object.assign(yB, { min: -230, max: -59.6 });
yB.axisTick.customValues = ddTicks;
yB.axisLabel.customValues = ddTicks;
yB.axisLabel.formatter = minusLabel;

const yC = yAxisBase(2, 'd-excess / permil');
Object.assign(yC, { min: -10, max: 40, interval: 10 });
yC.axisLabel.formatter = minusLabel;

const yRefs = [0, -100, 0];
const gridSeries = [];
[0, 1, 2].forEach(i => {
  gridSeries.push({
    type: 'custom', name: 'boundaries' + i, xAxisIndex: i, yAxisIndex: i,
    renderItem: boundaryItem(yRefs[i]), data: iopBounds, encode: { x: 0 }, silent: true, z: 1
  });
  gridSeries.push({
    type: 'custom', name: 'iops' + i, xAxisIndex: i, yAxisIndex: i,
    renderItem: bandItem(yRefs[i]), data: iopSpans, encode: { x: [0, 1] }, silent: true, z: 1
  });
});

const segSeries = (name, color, data, idx) => ({
  type: 'custom', name: name, xAxisIndex: idx, yAxisIndex: idx,
  renderItem: segmentItem, data: data, encode: { x: [0, 1], y: 2 },
  itemStyle: { color: color }, z: 3
});
const vapourSeries = (data, idx) => ({
  type: 'line', name: 'vapour Coast', xAxisIndex: idx, yAxisIndex: idx, data: data,
  showSymbol: false, symbol: 'none', connectNulls: false,
  lineStyle: { color: '#808080', width: 2 }, itemStyle: { color: '#808080' }, z: 2
});

const legendText = { fontSize: 16, fontFamily: FONT, color: '#000', padding: [0, 0, 0, 8] };

const option = {
  animation: false,
  backgroundColor: '#ffffff',
  title: [
    { text: '(a)', left: 88, top: 9, padding: 0, textStyle: { fontSize: 18, fontWeight: 'bold', fontFamily: FONT, color: '#000' } },
    { text: '(b)', left: 88, top: 333, padding: 0, textStyle: { fontSize: 18, fontWeight: 'bold', fontFamily: FONT, color: '#000' } },
    { text: '(c)', left: 88, top: 659, padding: 0, textStyle: { fontSize: 18, fontWeight: 'bold', fontFamily: FONT, color: '#000' } }
  ],
  grid: [
    { left: 87, right: 29, top: 33, height: 269, show: true, borderColor: '#000', borderWidth: 1 },
    { left: 87, right: 29, top: 356, height: 271, show: true, borderColor: '#000', borderWidth: 1 },
    { left: 87, right: 29, top: 681, height: 270, show: true, borderColor: '#000', borderWidth: 1 }
  ],
  xAxis: [xAxisFor(0), xAxisFor(1), xAxisFor(2)],
  yAxis: [yA, yB, yC],
  legend: [
    {
      orient: 'vertical', left: 1137, top: 41, padding: [7.5, 11, 4, 6],
      itemWidth: 33, itemHeight: 11, itemGap: 9.5, selectedMode: false,
      backgroundColor: 'rgba(255,255,255,0.8)', borderColor: '#cccccc', borderWidth: 1, borderRadius: 4,
      textStyle: legendText,
      data: [{ name: 'Parsivel\u00b2', icon: 'rect' }, { name: 'Andenes AWS', icon: 'rect' }]
    },
    {
      orient: 'vertical', left: 941, top: 571.5, padding: 0,
      itemWidth: 35, itemHeight: 2.5, itemGap: 9, selectedMode: false, textStyle: legendText,
      data: [{ name: 'vapour Coast', icon: 'rect' }, { name: 'precip Coast', icon: 'rect' }]
    },
    {
      orient: 'vertical', left: 1131, top: 571.5, padding: 0,
      itemWidth: 35, itemHeight: 2.5, itemGap: 9, selectedMode: false, textStyle: legendText,
      data: [{ name: 'precip ALOMAR', icon: 'rect' }, { name: 'precip Bergen', icon: 'rect' }]
    }
  ],
  graphic: [
    { type: 'rect', left: 936, top: 566, z: 3,
      shape: { width: 375, height: 52, r: 4 },
      style: { fill: 'rgba(255,255,255,0.8)', stroke: '#cccccc', lineWidth: 1 } }
  ],
  series: gridSeries.concat([
    { type: 'custom', name: 'iopLabels', xAxisIndex: 0, yAxisIndex: 0, renderItem: iopLabelItem,
      data: iopStart.map(s => [s]), encode: { x: 0 }, silent: true, z: 5 },
    { type: 'custom', name: 'Parsivel\u00b2', xAxisIndex: 0, yAxisIndex: 0, renderItem: barItem,
      data: parsivel, encode: { x: 0, y: 1 }, itemStyle: { color: '#000000' }, z: 2 },
    { type: 'custom', name: 'Andenes AWS', xAxisIndex: 0, yAxisIndex: 0, renderItem: barItem,
      data: andenes, encode: { x: 0, y: 1 }, itemStyle: { color: 'rgba(0,0,255,0.7)' }, z: 2 },

    vapourSeries(vapourDD, 1),
    segSeries('precip Coast', '#ff0000', precipCoastDD, 1),
    segSeries('precip ALOMAR', '#0000ff', precipAlomarDD, 1),
    segSeries('precip Bergen', '#008000', precipBergenDD, 1),

    vapourSeries(vapourDex, 2),
    segSeries('precip Coast', '#ff0000', precipCoastDex, 2),
    segSeries('precip ALOMAR', '#0000ff', precipAlomarDex, 2),
    segSeries('precip Bergen', '#008000', precipBergenDex, 2)
  ])
};

chart.setOption(option);
</script>
</body>
</html>
